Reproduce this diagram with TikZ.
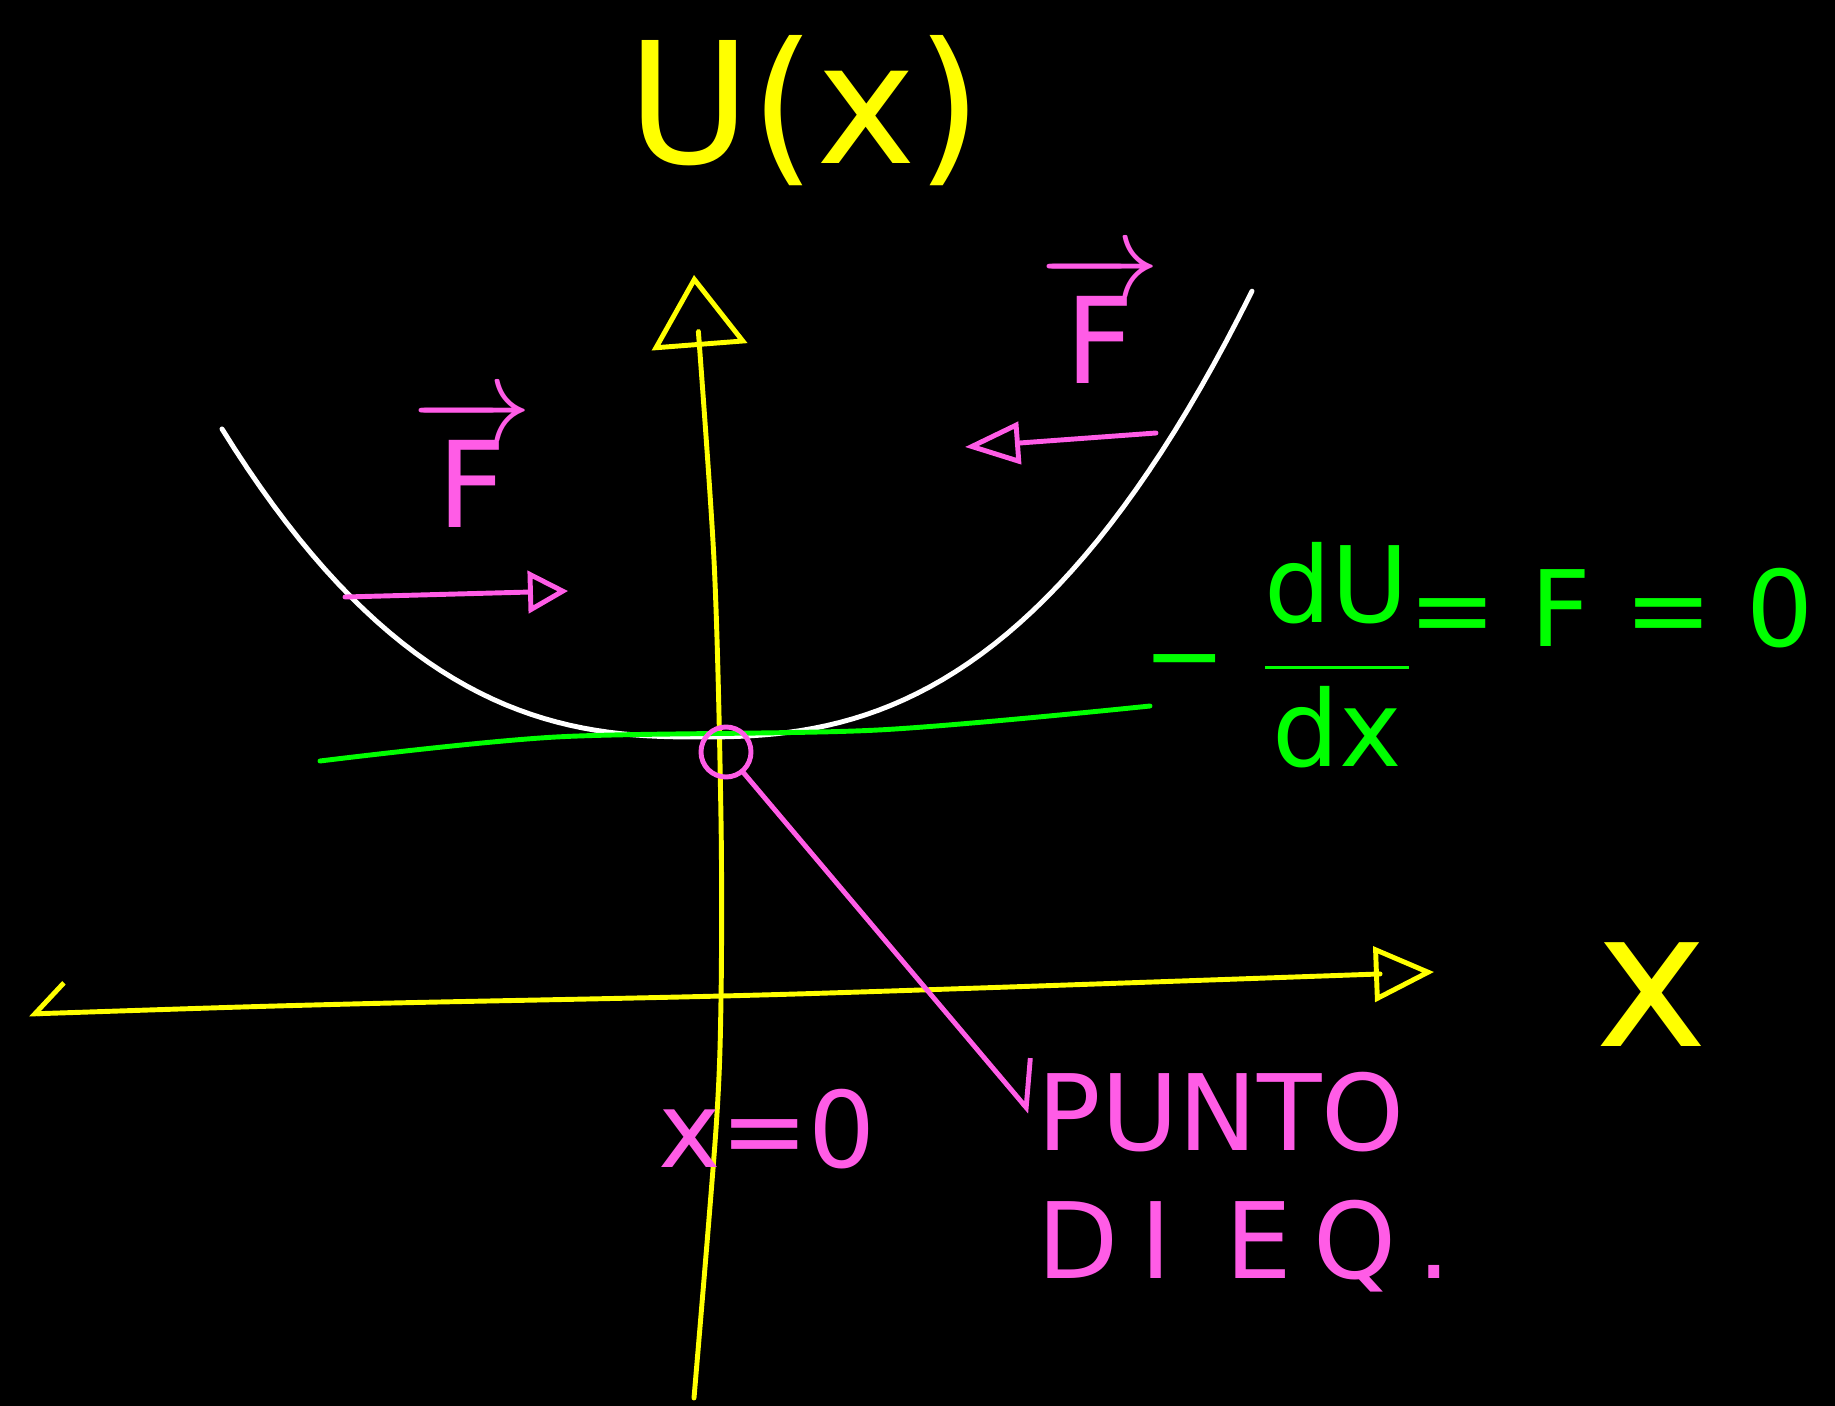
\RequirePackage{fix-cm}
\documentclass[tikz,border=0pt]{standalone}
\usepackage{fontspec}
\setmainfont{DejaVu Sans}
\usepackage{amsmath}
\usetikzlibrary{arrows.meta, positioning}
\definecolor{boardYellow}{HTML}{FFFF00}
\definecolor{boardPink}{HTML}{FF5CE6}
\definecolor{boardGreen}{HTML}{00FF00}

\begin{document}
\begin{tikzpicture}[
  x=0.01cm, y=-0.01cm,
  every node/.style={font=\fontsize{30}{36}\selectfont, inner sep=2pt},
  chalk/.style={draw=#1, line width=1.4pt, line cap=round, line join=round},
  hand/.style={text=#1},
  bigtext/.style={font=\fontsize{#1}{#1}\selectfont},
]

% board
\fill[black] (0,0) rectangle (1835,1406);
\useasboundingbox (0,0) rectangle (1835,1406);

% === AXES ===
\draw[chalk=boardYellow,
  {Straight Barb[harpoon, swap, length=0.3cm]}-{Triangle[open, length=0.6cm, width=0.55cm]}]
  plot[smooth, tension=0.5] coordinates {(29,1014) (351,1004) (796,994) (1434,972)};
\draw[chalk=boardYellow, -{Triangle[open, length=0.72cm, width=0.95cm]}]
  plot[smooth, tension=0.5] coordinates {(694,1398) (716,1129) (721,1000)
    (721,819) (714,560) (694,275)};

\node[hand=boardYellow, bigtext=48] (ulabel) at (805,111) {U(x)};
\node[hand=boardYellow, bigtext=54] (xlabel) at (1652,995) {x};

% === POTENTIAL CURVE ===
\draw[chalk=white]
  plot[domain=222:1252, samples=81] (\x, {737-6.2*abs((\x-699)/100)^2.5});

% tangent at the minimum
\draw[chalk=boardGreen]
  plot[smooth, tension=0.5] coordinates {(320,761) (556,737) (878,730) (1150,706)};

% === FORCES ===
\coordinate (fl) at (345,597);
\coordinate (fr) at (1156,433);
\draw[chalk=boardPink, -{Triangle[open, length=0.4cm, width=0.42cm]}] (fl) -- (568,591);
\draw[chalk=boardPink, -{Triangle[open, length=0.55cm, width=0.42cm]}] (fr) -- (965,447);
\node[hand=boardPink, bigtext=34] (fleft) at (472,462) {$\overrightarrow{\mathrm{F}}$};
\node[hand=boardPink, bigtext=34] (fright) at (1100,318) {$\overrightarrow{\mathrm{F}}$};

% equilibrium condition
\node[hand=boardGreen, bigtext=28] (minus) at (1185,672) {−};
\node[hand=boardGreen, bigtext=30] (frac) at (1337,655)
  {$\displaystyle\frac{\mathrm{dU}}{\mathrm{dx}}$};
\node[hand=boardGreen, bigtext=30, anchor=west] (eqzero) at (1401,608) {= F = 0};

% === EQUILIBRIUM POINT ===
\node[circle, draw=boardPink, line width=1.4pt, minimum size=0.5cm, inner sep=0pt]
  (eqpt) at (726,752) {};
\node[hand=boardPink] (xzero) at (767,1129) {x=0};
\node[hand=boardPink, anchor=west] (punto) at (1030,1112) {PUNTO};
\node[hand=boardPink, anchor=west] (dieq) at (1030,1246)
  {\addfontfeature{LetterSpace=20}DI EQ.};
\draw[chalk=boardPink, -{Straight Barb[harpoon, length=0.35cm]}] (eqpt) -- (punto.west);

\end{tikzpicture}
\end{document}
